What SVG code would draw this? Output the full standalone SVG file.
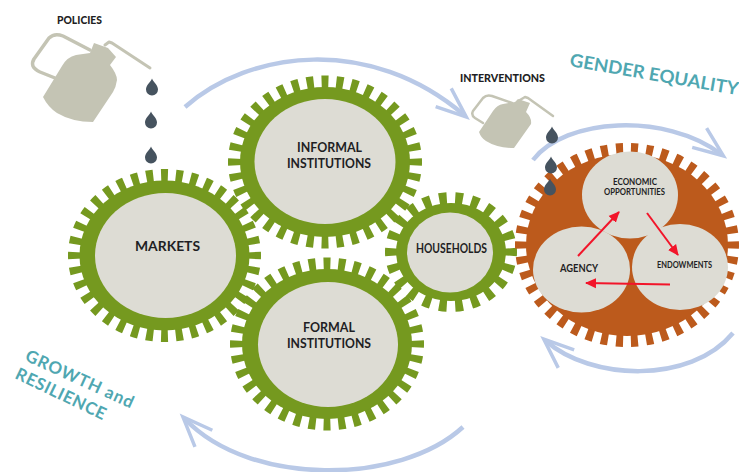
<svg xmlns="http://www.w3.org/2000/svg" width="739" height="472" viewBox="0 0 739 472">
<style>
.bg{fill:#fff}
.tg{fill:none;stroke:#75991f;stroke-width:14;stroke-dasharray:0.47 0.53;stroke-dashoffset:0.235}
.bg-g{fill:#75991f}
.to{fill:none;stroke:#bc5a1c;stroke-width:14;stroke-dasharray:0.47 0.53;stroke-dashoffset:0.235}
.bo{fill:#bc5a1c}
.in{fill:#dddcd4}
.t{font-family:"Lato","Liberation Sans",sans-serif;font-weight:700;fill:#1f1f24;text-anchor:middle}
.teal{font-family:"Lato","Liberation Sans",sans-serif;font-weight:700;fill:#4fa7b1}
.blue{fill:none;stroke:#b9c9e7;stroke-width:4.500;marker-end:url(#open)}
.red{fill:none;stroke:#f2152a;stroke-width:2;marker-end:url(#tri)}
.can{fill:#c4c4b4}
.canl{fill:none;stroke:#c4c4b4;stroke-linecap:round;stroke-linejoin:round}
.drop{fill:#46535f}
</style>
<defs>
<marker id="open" markerUnits="userSpaceOnUse" markerWidth="50" markerHeight="40" viewBox="-38 -20 50 40" refX="-3" refY="0" orient="auto">
<path d="M-30 -12 L0 0 L-30 12" fill="none" stroke="#b9c9e7" stroke-width="3.500"/>
</marker>
<marker id="tri" markerUnits="userSpaceOnUse" markerWidth="14" markerHeight="12" viewBox="0 -6 14 12" refX="10" refY="0" orient="auto">
<path d="M0 -5 L11 0 L0 5 Z" fill="#f2152a"/>
</marker>
<path id="d" d="M0 -8.500 C1.500 -4.500 6 -2 6 2.500 A6 6 0 0 1 -6 2.500 C-6 -2 -1.500 -4.500 0 -8.500Z" class="drop"/>
</defs>
<rect class="bg" width="739" height="472"/>

<g id="gear-markets">
<ellipse class="tg" cx="164.500" cy="255.500" rx="89.500" ry="79.500" pathLength="36"/>
<ellipse class="bg-g" cx="164.500" cy="255.500" rx="85" ry="75"/>
<ellipse class="in" cx="165.500" cy="255.500" rx="70.500" ry="62.500"/>
<text class="t" x="167.500" y="251" font-size="14" textLength="65" lengthAdjust="spacingAndGlyphs">MARKETS</text>
</g>
<g id="gear-informal">
<ellipse class="tg" cx="325" cy="162" rx="90" ry="79.500" pathLength="36"/>
<ellipse class="bg-g" cx="325" cy="162" rx="85" ry="75"/>
<ellipse class="in" cx="325" cy="161.500" rx="70.500" ry="62.500"/>
<text class="t" x="329.500" y="152" font-size="14" textLength="65" lengthAdjust="spacingAndGlyphs">INFORMAL</text>
<text class="t" x="329" y="168" font-size="14" textLength="84" lengthAdjust="spacingAndGlyphs">INSTITUTIONS</text>
</g>
<g id="gear-formal">
<ellipse class="tg" cx="327" cy="344" rx="90" ry="79.500" pathLength="36"/>
<ellipse class="bg-g" cx="327" cy="344" rx="85" ry="75"/>
<ellipse class="in" cx="328" cy="344.500" rx="70" ry="62.500"/>
<text class="t" x="329" y="332" font-size="14" textLength="52" lengthAdjust="spacingAndGlyphs">FORMAL</text>
<text class="t" x="329" y="348" font-size="14" textLength="84" lengthAdjust="spacingAndGlyphs">INSTITUTIONS</text>
</g>
<g id="gear-households">
<ellipse class="tg" cx="451" cy="252" rx="59" ry="53" pathLength="22"/>
<ellipse class="bg-g" cx="451" cy="252" rx="55" ry="49"/>
<ellipse class="in" cx="450" cy="252.500" rx="43" ry="40"/>
<text class="t" x="451.500" y="253" font-size="12.500" textLength="71" lengthAdjust="spacingAndGlyphs">HOUSEHOLDS</text>
</g>
<g id="gear-gender">
<ellipse class="to" cx="627" cy="245" rx="105" ry="95" pathLength="42"/>
<ellipse class="bo" cx="627" cy="245" rx="101" ry="91"/>
</g>
<g id="economic">
<ellipse class="in" cx="630" cy="195" rx="48" ry="43.500"/>
<text class="t" x="635" y="185" font-size="8.500" textLength="44" lengthAdjust="spacingAndGlyphs">ECONOMIC</text>
<text class="t" x="634.500" y="195" font-size="8.500" textLength="61" lengthAdjust="spacingAndGlyphs">OPPORTUNITIES</text>
</g>
<g id="agency">
<ellipse class="in" cx="581.500" cy="269.500" rx="48.500" ry="43"/>
<text class="t" x="579" y="272" font-size="11" textLength="38" lengthAdjust="spacingAndGlyphs">AGENCY</text>
</g>
<g id="endowments">
<ellipse class="in" cx="680" cy="267" rx="48" ry="43"/>
<text class="t" x="684.500" y="268" font-size="9.500" textLength="55" lengthAdjust="spacingAndGlyphs">ENDOWMENTS</text>
</g>

<g id="connectors">
<path class="blue" d="M185 107 C250 50 370 35 464 115"/>
<path class="blue" d="M533 160 C565 118 665 112 721 154"/>
<path class="blue" d="M733 333 C690 385 590 380 546 341"/>
<path class="blue" d="M463 427 C400 485 250 487 185 419"/>
<path class="red" d="M578 256 L619 212"/>
<path class="red" d="M647 213 L678 255"/>
<path class="red" d="M670 284.500 L586 283"/>
</g>

<g id="policies-can">
<text class="t" x="79.500" y="24" font-size="10.500" textLength="45" lengthAdjust="spacingAndGlyphs" style="font-weight:900">POLICIES</text>
<path class="can" d="M43 97 L62 66 Q67 57 76 55 L90 53 L94 43 L108 48 L116 57 L110 65 Q117 74 117 80 Q116 87 113 92 L93 122 Q72 122 57 113 Q48 107 43 97 Z"/>
<path class="canl" stroke-width="3.500" d="M55 78 L40 72 C32 68 31 64 34 59 L49 38 C53 34 58 34 63 36 L90 50"/>
<path class="canl" stroke-width="3" d="M105 45 L109 42 L112 43 L150 68"/>
<use href="#d" x="152" y="87"/>
<use href="#d" x="151" y="120"/>
<use href="#d" x="151" y="155"/>
</g>
<g id="interventions-can">
<text class="t" x="502.500" y="82" font-size="10.500" textLength="85" lengthAdjust="spacingAndGlyphs" style="font-weight:900">INTERVENTIONS</text>
<path class="can" d="M479 132 L493 111 Q497 105 503 104 L515 102 L518 99 L530 103 L526 112 Q532 118 531 124 L514 148 Q497 148 486 141 Q481 138 479 132 Z"/>
<path class="canl" stroke-width="2.500" d="M483 123 L475 118 C472 116 472 113 473 111 L483 98 C486 95 489 95 492 96 L512 103"/>
<path class="canl" stroke-width="2.500" d="M520 100 L525 97 L528 98 L553 116"/>
<use href="#d" x="552" y="135"/>
<use href="#d" x="551" y="165"/>
<use href="#d" x="550" y="187"/>
</g>

<text class="teal" font-size="18" textLength="171" lengthAdjust="spacingAndGlyphs" transform="translate(569 66) rotate(9.800)">GENDER EQUALITY</text>
<text class="teal" font-size="17" letter-spacing="0.800" transform="translate(24 360) rotate(24.500)">GROWTH and</text>
<text class="teal" font-size="17" letter-spacing="0.600" transform="translate(14 378) rotate(25.500)">RESILIENCE</text>
</svg>
